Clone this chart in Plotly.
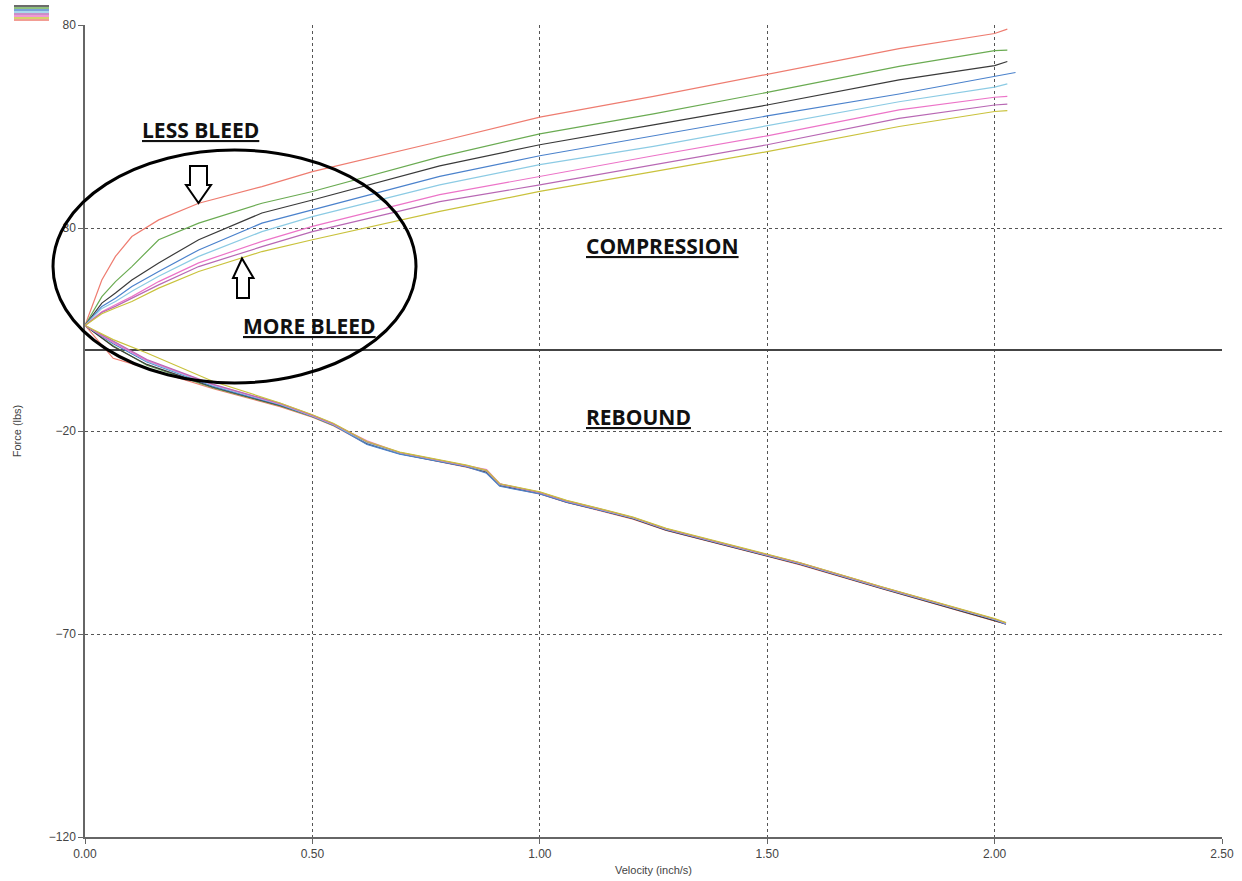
import plotly.graph_objects as go

# ---------------- data ----------------
series_names = ["Setting 1", "Setting 2", "Setting 3", "Setting 4",
                "Setting 5", "Setting 6", "Setting 7", "Setting 8"]
series_colors = ["#ee7c70", "#6aab52", "#3a3a3a", "#4b82cc",
                 "#8ccbe4", "#ec74c8", "#b868b4", "#c9c23c"]

comp_x = [0, 0.037, 0.067, 0.103, 0.162, 0.25, 0.389, 0.5, 0.78, 1.0, 1.25, 1.5, 1.79, 2.0, 2.028]
comp_x_blue = [0, 0.037, 0.067, 0.103, 0.162, 0.25, 0.389, 0.5, 0.78, 1.0, 1.25, 1.5, 1.79, 2.0, 2.046]

comp_red    = [6.0, 17.2, 23.0, 27.9, 32.0, 36.1, 40.2, 43.9, 51.3, 57.3, 62.4, 67.9, 74.2, 77.9, 79.0]
comp_green  = [6.0, 13.1, 16.8, 20.5, 27.1, 31.2, 36.1, 39.0, 47.5, 53.2, 58.1, 63.4, 69.8, 73.7, 73.8]
comp_black  = [6.0, 11.5, 14.0, 17.2, 21.4, 27.1, 33.7, 36.9, 45.3, 50.5, 55.4, 60.3, 66.5, 70.0, 71.0]
comp_blue   = [6.0, 10.7, 12.7, 15.6, 19.3, 24.6, 31.2, 34.5, 42.7, 47.8, 52.7, 57.6, 63.0, 67.3, 68.3]
comp_cyan   = [6.0, 10.2, 11.9, 14.4, 18.1, 23.0, 29.1, 32.8, 40.6, 45.6, 50.1, 55.2, 61.1, 64.7, 65.5]
comp_pink   = [6.0, 9.4, 11.1, 13.1, 16.8, 21.4, 26.7, 30.4, 38.2, 42.7, 47.8, 52.7, 59.1, 62.2, 62.4]
comp_mauve  = [6.0, 9.2, 10.7, 12.7, 16.0, 20.5, 25.4, 29.1, 36.5, 40.6, 45.6, 50.5, 57.0, 60.3, 60.5]
comp_yellow = [6.0, 8.9, 10.3, 11.9, 15.2, 19.3, 24.2, 27.1, 34.1, 39.0, 43.9, 48.8, 55.0, 58.7, 58.9]

reb_x = [0, 0.062, 0.136, 0.282, 0.429, 0.5, 0.546, 0.62, 0.692, 0.766, 0.839, 0.883, 0.912,
         1.0, 1.059, 1.132, 1.205, 1.278, 1.352, 1.425, 1.5, 1.571, 1.75, 2.0, 2.025]

reb_red    = [6.0, -2.1, -4.5, -9.6, -14.0, -16.6, -18.7, -23.2, -25.6, -27.3, -28.9, -30.2, -33.5,
              -35.5, -37.6, -39.6, -41.7, -44.5, -46.6, -48.6, -50.7, -52.9, -58.8, -66.7, -67.6]
reb_green  = [6.0, 1.0, -3.8, -9.4, -13.8, -16.5, -18.6, -22.8, -25.4, -27.0, -28.6, -29.8, -33.1,
              -35.2, -37.3, -39.3, -41.4, -44.2, -46.3, -48.3, -50.4, -52.6, -58.5, -66.4, -67.4]
reb_black  = [6.0, 0.8, -3.6, -9.2, -13.7, -16.3, -18.4, -23.1, -25.6, -27.2, -28.8, -30.1, -33.4,
              -35.4, -37.5, -39.5, -41.6, -44.4, -46.5, -48.5, -50.6, -52.8, -58.7, -66.6, -67.5]
reb_blue   = [6.0, 1.5, -3.0, -9.0, -13.6, -16.4, -18.5, -23.3, -25.7, -27.2, -28.8, -30.4, -33.6,
              -35.5, -37.5, -39.5, -41.5, -44.3, -46.4, -48.4, -50.5, -52.7, -58.6, -66.5, -67.6]
reb_cyan   = [6.0, 2.0, -2.8, -8.8, -13.4, -16.3, -18.4, -22.9, -25.4, -27.0, -28.6, -29.9, -33.2,
              -35.2, -37.3, -39.3, -41.4, -44.2, -46.3, -48.3, -50.4, -52.6, -58.5, -66.4, -67.4]
reb_pink   = [6.0, 1.8, -2.6, -8.6, -13.3, -16.2, -18.3, -22.4, -25.3, -26.9, -28.5, -29.5, -33.0,
              -35.1, -37.2, -39.2, -41.3, -44.1, -46.2, -48.2, -50.3, -52.5, -58.4, -66.3, -67.3]
reb_mauve  = [6.0, 2.2, -2.4, -8.5, -13.2, -16.1, -18.2, -22.7, -25.3, -26.9, -28.5, -29.8, -33.1,
              -35.1, -37.2, -39.2, -41.3, -44.1, -46.2, -48.2, -50.3, -52.5, -58.4, -66.3, -67.3]
reb_yellow = [6.0, 2.5, -0.8, -7.8, -13.1, -16.0, -18.1, -22.6, -25.2, -26.8, -28.4, -29.7, -33.0,
              -35.0, -37.1, -39.1, -41.2, -44.0, -46.1, -48.1, -50.2, -52.4, -58.3, -66.2, -67.2]

x_tickvals = [0, 0.5, 1.0, 1.5, 2.0, 2.5]
y_tickvals = [-120, -70, -20, 30, 80]

# ---------------- figure ----------------
W, H = 1242, 881
ML, MR, MT, MB = 85, 20, 25, 44          # plot area: x 85..1222, y 25..837
PW, PH = W - ML - MR, H - MT - MB

def px(x):  # page pixel x -> paper
    return (x - ML) / PW

def py(y):  # page pixel y -> paper
    return (H - MB - y) / PH

comp_sets = [comp_red, comp_green, comp_black, comp_blue, comp_cyan, comp_pink, comp_mauve, comp_yellow]
reb_sets = [reb_red, reb_green, reb_black, reb_blue, reb_cyan, reb_pink, reb_mauve, reb_yellow]

fig = go.Figure()
for i, (name, col) in enumerate(zip(series_names, series_colors)):
    fig.add_trace(go.Scatter(x=reb_x, y=reb_sets[i], mode="lines", name=name,
                             line=dict(color=col, width=1.2), showlegend=False))
for i, (name, col) in enumerate(zip(series_names, series_colors)):
    cx = comp_x_blue if i == 3 else comp_x
    fig.add_trace(go.Scatter(x=cx, y=comp_sets[i], mode="lines", name=name,
                             line=dict(color=col, width=1.2), showlegend=False))

shapes = []
# ellipse around low-speed region
shapes.append(dict(type="circle", xref="paper", yref="paper",
                   x0=px(53), x1=px(416), y0=py(383), y1=py(150),
                   line=dict(color="black", width=3), fillcolor="rgba(0,0,0,0)"))

def poly(points):
    return "M " + " L ".join(f"{px(a):.5f},{py(b):.5f}" for a, b in points) + " Z"

down_arrow = [(190, 166), (207, 166), (207, 185), (211, 185), (198.5, 203),
              (186, 185), (190, 185)]
up_arrow = [(237, 298), (249, 298), (249, 278), (253.5, 278), (242, 258.5),
            (233, 278), (237, 278)]
for pts in (down_arrow, up_arrow):
    shapes.append(dict(type="path", xref="paper", yref="paper", path=poly(pts),
                       line=dict(color="black", width=2), fillcolor="white"))

# legend swatch at top-left
swatch_order = [2, 1, 3, 4, 6, 5, 7, 0]
for k, idx in enumerate(swatch_order):
    yy = 6 + k * 2
    shapes.append(dict(type="line", xref="paper", yref="paper",
                       x0=px(14), x1=px(49), y0=py(yy), y1=py(yy),
                       line=dict(color=series_colors[idx], width=1.6)))

fig.update_layout(shapes=shapes)

ann_font = dict(family="Open Sans", size=21, color="#111111")
labels = [("LESS BLEED", 200, 130), ("COMPRESSION", 662, 246),
          ("MORE BLEED", 309, 326), ("REBOUND", 638, 417)]
for txt, ax_, ay_ in labels:
    fig.add_annotation(text=f"<b><u>{txt}</u></b>", xref="paper", yref="paper",
                       x=px(ax_), y=py(ay_), showarrow=False, font=ann_font,
                       xanchor="center", yanchor="middle")

fig.update_layout(
    width=W, height=H,
    margin=dict(l=ML, r=MR, t=MT, b=MB, autoexpand=False),
    paper_bgcolor="white", plot_bgcolor="white",
    font=dict(family="Liberation Sans", size=11, color="#444444"),
    xaxis=dict(range=[0, 2.5], tickvals=x_tickvals, tickformat=".2f", automargin=False,
               showgrid=True, gridcolor="#555555", griddash="3px,3px", gridwidth=1,
               showline=True, linecolor="#666666", linewidth=1.5,
               ticks="outside", ticklen=5, tickcolor="#666666",
               zeroline=False,
               title=dict(text="Velocity (inch/s)", standoff=6,
                          font=dict(family="Liberation Sans", size=11, color="#444444")),
               tickfont=dict(family="Liberation Sans", size=12, color="#444444")),
    yaxis=dict(range=[-120, 80], tickvals=y_tickvals, automargin=False,
               showgrid=True, gridcolor="#555555", griddash="3px,3px", gridwidth=1,
               showline=True, linecolor="#666666", linewidth=1.5,
               ticks="outside", ticklen=5, tickcolor="#666666",
               zeroline=True, zerolinecolor="#444444", zerolinewidth=1.5,
               title=dict(text="Force (lbs)", standoff=25,
                          font=dict(family="Liberation Sans", size=11, color="#444444")),
               tickfont=dict(family="Liberation Sans", size=12, color="#444444")),
)

fig.write_html("out.html", config={"displayModeBar": False},
               post_script="document.body.style.margin='0px';document.body.style.overflow='hidden';")
